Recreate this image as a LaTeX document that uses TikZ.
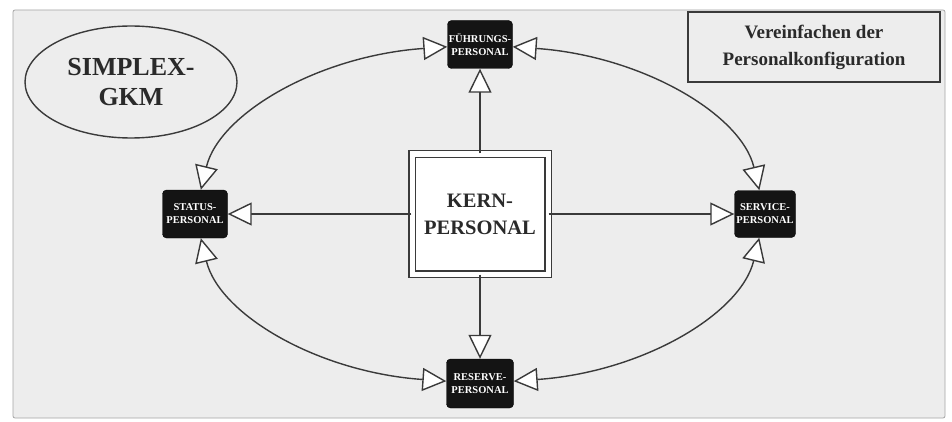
\documentclass[tikz,border=0pt]{standalone}
\usepackage{fontspec}
\setmainfont{Liberation Serif}
\usetikzlibrary{arrows.meta,shapes.geometric}
\definecolor{ln}{HTML}{3A3A3A}
\definecolor{bgc}{HTML}{EDEDED}
\definecolor{txt}{HTML}{2A2A2A}
\begin{document}
\begin{tikzpicture}[x=1pt,y=1pt,
  pers/.style={draw=black, fill=black!92, rounded corners=4pt, text=white,
    font=\bfseries\fontsize{10.5}{13}\selectfont, align=center, inner sep=0pt,
    minimum width=65pt, minimum height=48pt},
  con/.style={draw=ln, line width=1.4pt},
  arr/.style={-{Triangle[length=24pt,width=23pt,fill=white]}},
  biarr/.style={{Triangle[length=24pt,width=23pt,fill=white]}-{Triangle[length=24pt,width=23pt,fill=white]}},
  curvy/.style={out distance=129pt,in distance=78.5pt}
]
\useasboundingbox (0,0) rectangle (952,421);
\fill[white] (0,0) rectangle (952,421);
\draw[gray!70, line width=0.8pt, fill=bgc, rounded corners=2pt] (13,3) rectangle (945,411);

% outer boxes
\node[pers] (f) at (480,376.5) {FÜHRUNGS-\\PERSONAL};
\node[pers] (s) at (195,207) {STATUS-\\PERSONAL};
\node[pers, minimum width=61pt, minimum height=47pt] (v) at (765,207) {SERVICE-\\PERSONAL};
\node[pers, minimum width=67pt, minimum height=49pt] (r) at (480,37.5) {RESERVE-\\PERSONAL};

% core
\node[draw=ln, double=white, double distance=5pt, line width=1.3pt, fill=white,
  minimum width=136pt, minimum height=120pt, text=txt, align=center,
  font=\bfseries\fontsize{20.5}{27}\selectfont] (k) at (480,207) {KERN-\\PERSONAL};

% labels
\node[ellipse, draw=ln, line width=1.4pt, minimum width=212pt, minimum height=112pt,
  text=txt, align=center, font=\bfseries\fontsize{26}{30}\selectfont] (sg) at (131,339) {SIMPLEX-\\GKM};
\node[draw=ln, line width=1.4pt, minimum width=252pt, minimum height=70pt,
  text=txt, align=center, font=\bfseries\fontsize{19}{27}\selectfont] (vp) at (814,374) {Vereinfachen der\\Personalkonfiguration};

% ellipse arcs
\draw[con,biarr] (f) to[out=184,in=76.5,curvy] (s);
\draw[con,biarr] (f) to[out=-4,in=103.5,curvy] (v);
\draw[con,biarr] (r) to[out=176,in=-76.5,curvy] (s);
\draw[con,biarr] (r) to[out=4,in=256.5,curvy] (v);

% spokes
\draw[con,arr] (k) -- (f);
\draw[con,arr] (k) -- (s);
\draw[con,arr] (k) -- (v);
\draw[con,arr] (k) -- (r);
\end{tikzpicture}
\end{document}
